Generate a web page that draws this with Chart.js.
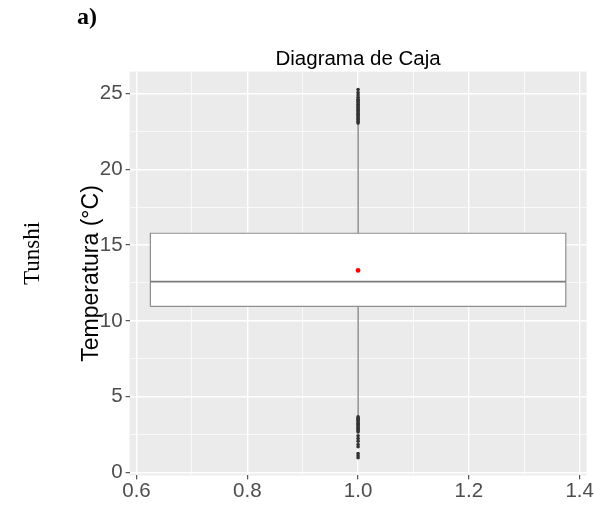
<!DOCTYPE html>
<html>
<head>
<meta charset="utf-8">
<script src="https://cdn.jsdelivr.net/npm/chart.js@4/dist/chart.umd.min.js"></script>
<style>
  html, body { margin: 0; padding: 0; background: #ffffff; }
  #wrap { width: 594px; height: 508px; position: relative; }
</style>
</head>
<body>
<div id="wrap"><canvas id="c" width="594" height="508"></canvas></div>
<script>
// Temperature summary for the Tunshi station (single group at x = 1)
const groupPositions = [1];
const lowerQuartiles = [10.95];
const medians = [12.59];
const upperQuartiles = [15.78];
const means = [13.33];
const whiskerLows = [3.72];
const whiskerHighs = [23.0];

// Values beyond 1.5 × IQR
const upperOutliers = [23.05, 23.12, 23.2, 23.3, 23.38, 23.45, 23.55, 23.62, 23.7, 23.8,
  23.88, 23.95, 24.05, 24.12, 24.2, 24.3, 24.38, 24.46, 24.55, 24.62, 24.75, 24.9, 25.06, 25.27];
const lowerOutliers = [3.66, 3.58, 3.5, 3.42, 3.34, 3.25, 3.17, 3.08, 3.0, 2.92,
  2.83, 2.75, 2.66, 2.41, 2.23, 2.06, 1.84, 1.69, 1.25, 1.1, 0.96];

// Labelled (major) ticks; minor grid lines sit halfway between them
const xMajorTicks = [0.6, 0.8, 1.0, 1.2, 1.4];
const yMajorTicks = [0, 5, 10, 15, 20, 25];

const BOX_HALF_WIDTH = 0.375;

const near = (v, list) => list.some(t => Math.abs(t - v) < 1e-6);

// Box outline as a closed polygon in data space
const boxData = [];
const medianData = [];
const whiskerUpData = [];
const whiskerDownData = [];
groupPositions.forEach((x, i) => {
  const l = x - BOX_HALF_WIDTH, r = x + BOX_HALF_WIDTH;
  boxData.push({x: l, y: lowerQuartiles[i]}, {x: r, y: lowerQuartiles[i]},
               {x: r, y: upperQuartiles[i]}, {x: l, y: upperQuartiles[i]},
               {x: l, y: lowerQuartiles[i]});
  medianData.push({x: l, y: medians[i]}, {x: r, y: medians[i]});
  whiskerUpData.push({x: x, y: upperQuartiles[i]}, {x: x, y: whiskerHighs[i]});
  whiskerDownData.push({x: x, y: lowerQuartiles[i]}, {x: x, y: whiskerLows[i]});
});
const outlierData = [];
groupPositions.forEach(x => {
  upperOutliers.forEach(v => outlierData.push({x: x, y: v}));
  lowerOutliers.forEach(v => outlierData.push({x: x, y: v}));
});
const meanData = groupPositions.map((x, i) => ({x: x, y: means[i]}));

// Grey panel behind the grid, plus the outer annotations
const panelPlugin = {
  id: 'panel',
  beforeDraw(chart) {
    const {ctx, chartArea: a} = chart;
    ctx.save();
    ctx.fillStyle = '#EBEBEB';
    ctx.fillRect(a.left, a.top, a.right - a.left, a.bottom - a.top);
    ctx.restore();
  },
  afterDraw(chart) {
    const {ctx, chartArea: a} = chart;
    ctx.save();
    ctx.fillStyle = '#000000';
    ctx.font = 'bold 24px "Liberation Serif", "Times New Roman", serif';
    ctx.textAlign = 'left';
    ctx.textBaseline = 'alphabetic';
    ctx.fillText('a)', 77, 24);
    ctx.font = '23px "Liberation Serif", "Times New Roman", serif';
    ctx.translate(33, (a.top + a.bottom) / 2 - 20);
    ctx.rotate(-Math.PI / 2);
    ctx.textAlign = 'center';
    ctx.textBaseline = 'middle';
    ctx.fillText('Tunshi', 0, 0);
    ctx.restore();
  }
};

const sans = '"Liberation Sans", Arial, Helvetica, sans-serif';

new Chart(document.getElementById('c'), {
  type: 'scatter',
  data: {
    datasets: [
      { type: 'scatter', data: meanData, order: 0,
        pointRadius: 2.4, pointBackgroundColor: '#FF0000', pointBorderWidth: 0 },
      { type: 'scatter', data: outlierData, order: 1,
        pointRadius: 1.8, pointBackgroundColor: '#333333', pointBorderWidth: 0 },
      { type: 'line', data: medianData, order: 2,
        borderColor: '#7a7a7a', borderWidth: 1.7, pointRadius: 0, fill: false },
      { type: 'line', data: boxData, order: 3,
        borderColor: '#8f8f8f', borderWidth: 1.2, backgroundColor: '#FFFFFF',
        pointRadius: 0, fill: 'shape', tension: 0 },
      { type: 'line', data: whiskerUpData, order: 4,
        borderColor: '#737373', borderWidth: 1.2, pointRadius: 0, fill: false },
      { type: 'line', data: whiskerDownData, order: 5,
        borderColor: '#737373', borderWidth: 1.2, pointRadius: 0, fill: false }
    ]
  },
  options: {
    responsive: false,
    animation: false,
    events: [],
    layout: { autoPadding: false, padding: { left: 77.7, right: 7, top: 47, bottom: 4 } },
    plugins: {
      legend: { display: false },
      tooltip: { enabled: false },
      title: {
        display: true,
        text: 'Diagrama de Caja',
        fullSize: false,
        color: '#000000',
        font: { family: sans, size: 20.5, weight: 'normal' },
        padding: { top: 0, bottom: 0 }
      }
    },
    scales: {
      x: {
        type: 'linear',
        min: 0.5875,
        max: 1.4125,
        border: { display: false },
        grid: {
          color: '#FFFFFF',
          lineWidth: c => near(c.tick.value, xMajorTicks) ? 1.4 : 0.7,
          tickColor: c => near(c.tick.value, xMajorTicks) ? '#333333' : 'rgba(0,0,0,0)',
          tickWidth: 1,
          tickLength: 4
        },
        ticks: {
          stepSize: 0.1,
          includeBounds: false,
          autoSkip: false,
          maxRotation: 0,
          padding: 0,
          color: '#4D4D4D',
          font: { family: sans, size: 20.5 },
          callback: v => near(v, xMajorTicks) ? Number(v).toFixed(1) : ''
        }
      },
      y: {
        type: 'linear',
        min: -0.2,
        max: 26.45,
        border: { display: false },
        title: {
          display: true,
          text: 'Temperatura (°C)',
          color: '#000000',
          font: { family: sans, size: 23 },
          padding: { top: 0, bottom: -8.5 }
        },
        grid: {
          color: '#FFFFFF',
          lineWidth: c => near(c.tick.value, yMajorTicks) ? 1.4 : 0.7,
          tickColor: c => near(c.tick.value, yMajorTicks) ? '#333333' : 'rgba(0,0,0,0)',
          tickWidth: 1,
          tickLength: 4
        },
        ticks: {
          stepSize: 2.5,
          includeBounds: false,
          autoSkip: false,
          padding: 3,
          color: '#4D4D4D',
          font: { family: sans, size: 20.5 },
          callback: v => near(v, yMajorTicks) ? String(v) : ''
        }
      }
    }
  },
  plugins: [panelPlugin]
});
</script>
</body>
</html>
